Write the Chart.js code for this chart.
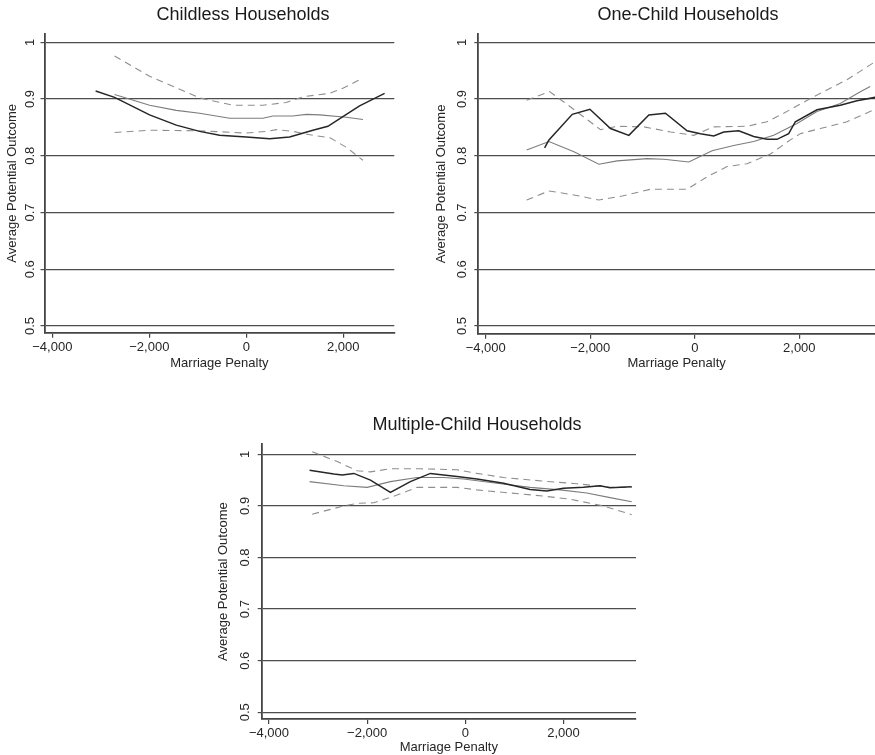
<!DOCTYPE html>
<html><head><meta charset="utf-8">
<script src="https://cdn.jsdelivr.net/npm/chart.js@4.4.1/dist/chart.umd.min.js"></script>
<style>
html,body{margin:0;padding:0;background:#fff;width:875px;height:755px;overflow:hidden;position:relative}
canvas{position:absolute}
</style></head><body>
<canvas id="c1" width="486" height="375" style="left:0px;top:0px"></canvas>
<canvas id="c2" width="516" height="375" style="left:430px;top:0px"></canvas>
<canvas id="c3" width="532" height="345" style="left:211px;top:410px"></canvas>
<script>
// ---- text ----
const panelTitles = ['Childless Households', 'One-Child Households', 'Multiple-Child Households'];
const xAxisTitle = 'Marriage Penalty';
const yAxisTitle = 'Average Potential Outcome';
const xTicks = [-4000, -2000, 0, 2000];
const xTickLabels = ['\u22124,000', '\u22122,000', '0', '2,000'];
const yTicks = [0.5, 0.6, 0.7, 0.8, 0.9, 1];
const yTickLabels = ['0.5', '0.6', '0.7', '0.8', '0.9', '1'];

// ---- Childless households ----
const childlessMainX = [-3107, -2716, -1994, -1443, -963, -550, 0, 480, 893, 1373, 1683, 1992, 2336, 2852];
const childlessMainY = [0.914, 0.903, 0.872, 0.854, 0.843, 0.836, 0.833, 0.830, 0.833, 0.845, 0.852, 0.869, 0.888, 0.910];
const childlessAltX = [-2716, -1994, -1443, -963, -344, 342, 549, 961, 1237, 1512, 2062, 2405];
const childlessAltY = [0.908, 0.889, 0.880, 0.875, 0.866, 0.866, 0.870, 0.870, 0.873, 0.872, 0.868, 0.864];
const childlessUpperX = [-2716, -1994, -963, -275, 342, 825, 1167, 1718, 1992, 2405];
const childlessUpperY = [0.976, 0.940, 0.902, 0.889, 0.889, 0.894, 0.904, 0.910, 0.919, 0.937];
const childlessLowerX = [-2716, -1994, -963, 0, 412, 619, 961, 1373, 1718, 2062, 2405];
const childlessLowerY = [0.841, 0.845, 0.844, 0.840, 0.843, 0.846, 0.843, 0.836, 0.832, 0.815, 0.792];

// ---- One-child households ----
const oneMainX = [-2873, -2790, -2344, -2007, -1612, -1261, -879, -561, -147, 108, 363, 554, 841, 1127, 1382, 1573, 1796, 1924, 2338, 2784, 3102, 3453];
const oneMainY = [0.814, 0.828, 0.873, 0.882, 0.848, 0.836, 0.872, 0.875, 0.844, 0.839, 0.835, 0.842, 0.844, 0.834, 0.829, 0.829, 0.839, 0.860, 0.881, 0.889, 0.897, 0.903];
const oneAltX = [-3217, -2790, -2312, -1835, -1484, -911, -592, -115, 331, 745, 1127, 1510, 1956, 2338, 2784, 3166, 3357];
const oneAltY = [0.810, 0.825, 0.807, 0.785, 0.791, 0.795, 0.794, 0.789, 0.809, 0.818, 0.825, 0.836, 0.857, 0.878, 0.892, 0.913, 0.922];
const oneUpperX = [-3217, -2777, -2376, -1803, -1484, -975, -465, -19, 363, 1000, 1382, 1701, 2274, 2911, 3421];
const oneUpperY = [0.898, 0.913, 0.886, 0.846, 0.852, 0.851, 0.842, 0.836, 0.851, 0.852, 0.860, 0.875, 0.904, 0.934, 0.964];
const oneLowerX = [-3217, -2790, -2312, -1835, -1389, -847, -147, 236, 618, 1000, 1446, 1828, 2019, 2401, 2911, 3453];
const oneLowerY = [0.722, 0.738, 0.731, 0.722, 0.729, 0.741, 0.741, 0.763, 0.781, 0.786, 0.803, 0.828, 0.839, 0.848, 0.860, 0.882];

// ---- Multiple-child households ----
const multiMainX = [-3173, -2678, -2509, -2271, -1932, -1526, -1119, -712, -170, 237, 780, 1322, 1661, 2000, 2407, 2746, 2949, 3390];
const multiMainY = [0.969, 0.962, 0.960, 0.963, 0.950, 0.926, 0.947, 0.963, 0.957, 0.952, 0.944, 0.932, 0.929, 0.934, 0.936, 0.939, 0.935, 0.937];
const multiAltX = [-3173, -2475, -2000, -1526, -983, -441, -34, 644, 1322, 1932, 2475, 2949, 3390];
const multiAltY = [0.947, 0.939, 0.936, 0.947, 0.955, 0.955, 0.952, 0.944, 0.936, 0.931, 0.925, 0.916, 0.908];
const multiUpperX = [-3119, -2610, -2203, -1932, -1526, -915, -170, 237, 780, 1593, 2271, 2949, 3390];
const multiUpperY = [1.005, 0.986, 0.968, 0.966, 0.972, 0.972, 0.970, 0.963, 0.955, 0.948, 0.943, 0.936, 0.936];
const multiLowerX = [-3119, -2475, -2203, -1864, -1390, -983, -170, 237, 915, 1593, 2136, 2814, 3390];
const multiLowerY = [0.884, 0.900, 0.905, 0.906, 0.921, 0.936, 0.936, 0.931, 0.925, 0.919, 0.913, 0.900, 0.883];

const FONT = '"Liberation Sans", Arial, Helvetica, sans-serif';
const pts = (xs, ys) => xs.map((x, i) => ({x: x, y: ys[i]}));

function makePanel(id, title, series, L) {
  const ds = [
    {data: pts(series.mainX, series.mainY), borderColor: '#262626', borderWidth: 1.5},
    {data: pts(series.altX, series.altY), borderColor: '#7c7c7c', borderWidth: 1.1},
    {data: pts(series.upX, series.upY), borderColor: '#8e8e8e', borderWidth: 1.1, borderDash: [7, 5]},
    {data: pts(series.loX, series.loY), borderColor: '#8e8e8e', borderWidth: 1.1, borderDash: [7, 5]}
  ].map(d => Object.assign({pointRadius: 0, tension: 0, fill: false, yAxisID: 'y'}, d));
  new Chart(document.getElementById(id), {
    type: 'line',
    data: {datasets: ds},
    options: {
      responsive: false, animation: false, devicePixelRatio: 1,
      layout: {padding: 0},
      plugins: {
        legend: {display: false}, tooltip: {enabled: false},
        title: {display: true, text: title, color: '#1a1a1a',
          font: {family: FONT, size: 18, weight: 'normal'},
          padding: {top: L.titleTop, bottom: L.titleBottom}}
      },
      scales: {
        x: {
          type: 'linear', min: L.xMin, max: L.xMax,
          afterBuildTicks: s => { s.ticks = xTicks.map(v => ({value: v})); },
          afterFit: s => { s.height = L.xH; s.paddingLeft = 0; s.paddingRight = 0; },
          ticks: {autoSkip: false, maxRotation: 0, padding: L.xTickPad, color: '#262626',
            font: {family: FONT, size: 13},
            callback: (v) => xTickLabels[xTicks.indexOf(v)]},
          grid: {drawOnChartArea: false, drawTicks: true, tickLength: 5, color: '#444', lineWidth: 1.2},
          border: {display: true, color: '#444', width: 1.8},
          title: {display: true, text: xAxisTitle, color: '#262626',
            font: {family: FONT, size: 13}, padding: {top: 0, bottom: L.xTitleBottom}}
        },
        y: {
          type: 'linear', position: 'left', min: L.yMin, max: L.yMax,
          afterBuildTicks: s => { s.ticks = yTicks.map(v => ({value: v})); },
          afterFit: s => { s.width = L.yW; s.paddingTop = 0; s.paddingBottom = 0; },
          ticks: {autoSkip: false, minRotation: 90, maxRotation: 90, crossAlign: 'center',
            padding: L.yTickPad, color: '#262626', font: {family: FONT, size: 13},
            callback: (v) => yTickLabels[yTicks.indexOf(v)]},
          grid: {drawOnChartArea: true, drawTicks: true, tickLength: 4, color: '#4d4d4d', lineWidth: 1.2},
          border: {display: true, color: '#444', width: 1.8},
          title: {display: true, text: yAxisTitle, color: '#262626',
            font: {family: FONT, size: 13}, padding: {top: L.yTitleTop, bottom: 0}}
        },
        // empty spacer on the right so the panel title centres over the whole panel
        spacer: {
          type: 'linear', position: 'right', display: true,
          afterFit: s => { s.width = L.padRight; s.paddingTop = 0; s.paddingBottom = 0; },
          ticks: {display: false}, grid: {display: false}, border: {display: false}
        }
      }
    }
  });
}

makePanel('c1', panelTitles[0],
  {mainX: childlessMainX, mainY: childlessMainY, altX: childlessAltX, altY: childlessAltY,
   upX: childlessUpperX, upY: childlessUpperY, loX: childlessLowerX, loY: childlessLowerY},
  {padRight: 91.7, titleTop: 4, titleBottom: 8.4, xH: 42.2, yW: 44.5, xTickPad: 2.2,
   xTitleBottom: 4.2, yTitleTop: 4.2, yTickPad: 1, xMin: -4161, xMax: 3052, yMin: 0.488, yMax: 1.0146});

makePanel('c2', panelTitles[1],
  {mainX: oneMainX, mainY: oneMainY, altX: oneAltX, altY: oneAltY,
   upX: oneUpperX, upY: oneUpperY, loX: oneLowerX, loY: oneLowerY},
  {padRight: 71, titleTop: 4, titleBottom: 8.7, xH: 41.3, yW: 48.3, xTickPad: 1.5,
   xTitleBottom: 4.2, yTitleTop: 3.9, yTickPad: 3, xMin: -4142, xMax: 3448, yMin: 0.4864, yMax: 1.0141});

makePanel('c3', panelTitles[2],
  {mainX: multiMainX, mainY: multiMainY, altX: multiAltX, altY: multiAltY,
   upX: multiUpperX, upY: multiUpperY, loX: multiLowerX, loY: multiLowerY},
  {padRight: 107, titleTop: 4.2, titleBottom: 8.5, xH: 36, yW: 50.7, xTickPad: 1.2,
   xTitleBottom: 0.2, yTitleTop: 4.2, yTickPad: 3, xMin: -4148, xMax: 3478, yMin: 0.487, yMax: 1.0194});
</script>
</body></html>
